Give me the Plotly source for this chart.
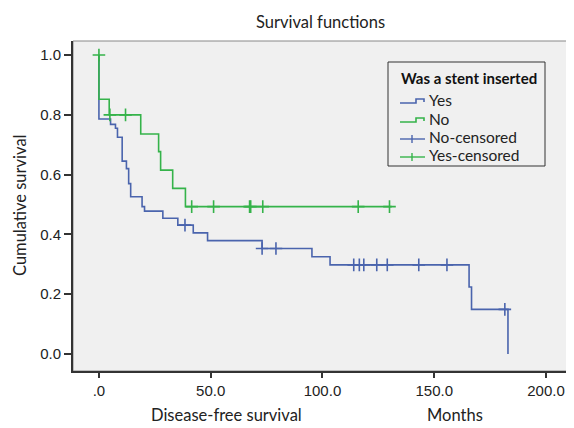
import plotly.graph_objects as go

# ---- data ----
# Group "Yes" (blue): step times and survival after each step
yes_times = [0, 0, 5.2, 7.4, 8.3, 10.4, 12.3, 13.3, 14.2, 19.3, 20.4, 28.6, 35.3, 42.2, 48.6, 73.0, 95.3, 103.4, 165.6, 166.7, 183.0]
yes_surv = [1.0, 0.786, 0.768, 0.755, 0.725, 0.645, 0.62, 0.57, 0.526, 0.493, 0.478, 0.454, 0.431, 0.405, 0.379, 0.353, 0.325, 0.298, 0.224, 0.149, 0.0]
yes_cens_t = [38.5, 73.0, 79.2, 114.0, 116.5, 118.5, 124.3, 129.0, 143.1, 155.7, 181.6]

# Group "No" (green)
no_times = [0, 0, 4.6, 18.7, 26.7, 27.6, 33.0, 38.7, 131.0]
no_surv = [1.0, 0.852, 0.80, 0.736, 0.677, 0.615, 0.554, 0.493, 0.493]
no_cens_t = [0.0, 4.9, 11.9, 41.5, 51.3, 67.4, 67.9, 73.3, 116.0, 130.0]

x_tick_vals = [0, 50, 100, 150, 200]
x_tick_text = [".0", "50.0", "100.0", "150.0", "200.0"]
y_tick_vals = [0.0, 0.2, 0.4, 0.6, 0.8, 1.0]

legend_title = "Was a stent inserted"
legend_labels = ["Yes", "No", "No-censored", "Yes-censored"]


def surv_at(times, surv, t):
    s = surv[0]
    for ti, si in zip(times, surv):
        if ti <= t:
            s = si
    return s


yes_cens_s = [surv_at(yes_times, yes_surv, t) for t in yes_cens_t]
no_cens_s = [1.0 if t == 0 else surv_at(no_times[1:], no_surv[1:], t) for t in no_cens_t]

BLUE = "#4a64ad"
GREEN = "#35b34a"
TXT = "#222222"
FONT = "Lato"
TICKFONT = "Liberation Sans"

# page offset (body margin) compensation: plot area in window pixels
OFF = 8
W, H = 574, 428
PX0, PX1, PY0, PY1 = 73, 571, 41, 371  # plot area in window px
ML, MT = PX0 - OFF, PY0 - OFF
MR = (W + OFF) - PX1
MB = (H + OFF) - PY1
PW, PH = PX1 - PX0, PY1 - PY0


def px(x):
    return (x - PX0) / PW


def py(y):
    return (PY1 - y) / PH


fig = go.Figure()
fig.add_trace(go.Scatter(x=yes_times, y=yes_surv, mode="lines", line=dict(shape="hv", color=BLUE, width=1.6),
                         name=legend_labels[0], showlegend=False))
fig.add_trace(go.Scatter(x=no_times, y=no_surv, mode="lines", line=dict(shape="hv", color=GREEN, width=1.6),
                         name=legend_labels[1], showlegend=False))
fig.add_trace(go.Scatter(x=yes_cens_t, y=yes_cens_s, mode="markers",
                         marker=dict(symbol="cross-thin", size=9, line=dict(color=BLUE, width=1.6)),
                         name=legend_labels[2], showlegend=False))
fig.add_trace(go.Scatter(x=no_cens_t, y=no_cens_s, mode="markers",
                         marker=dict(symbol="cross-thin", size=9, line=dict(color=GREEN, width=1.6)),
                         name=legend_labels[3], showlegend=False))

annotations = [
    dict(text="Survival functions", x=px(320), y=py(22), xanchor="center",
         font=dict(size=16.5, color=TXT, family=FONT)),
    dict(text="Disease-free survival", x=px(226), y=py(415), xanchor="center",
         font=dict(size=16.5, color=TXT, family=FONT)),
    dict(text="Months", x=px(455), y=py(415), xanchor="center",
         font=dict(size=16.5, color=TXT, family=FONT)),
    dict(text="Cumulative survival", x=px(20), y=py(206), textangle=-90, xanchor="center",
         font=dict(size=16.5, color=TXT, family=FONT)),
    # legend title
    dict(text="<b>" + legend_title + "</b>", x=px(399), y=py(78), xanchor="left",
         font=dict(size=15, color="#111111", family=FONT)),
]
row_y = [100, 119, 137, 155]
for lab, yy in zip(legend_labels, row_y):
    annotations.append(dict(text=lab, x=px(427), y=py(yy), xanchor="left",
                            font=dict(size=15.5, color=TXT, family=FONT)))
for a in annotations:
    a.update(xref="paper", yref="paper", showarrow=False, yanchor="middle")

shapes = [
    # thin frame around plot area (top/right)
    dict(type="rect", xref="paper", yref="paper", x0=0, y0=0, x1=1, y1=1,
         line=dict(color="#888888", width=1), layer="below"),
    # legend box
    dict(type="rect", xref="paper", yref="paper", x0=px(388), y0=py(166), x1=px(545), y1=py(62),
         line=dict(color="#333333", width=1), fillcolor="#f0f0f0", layer="above"),
]


def step_symbol(y, color):
    return dict(type="path", xref="paper", yref="paper",
                path=f"M {px(400)},{py(y + 3)} L {px(416)},{py(y + 3)} L {px(416)},{py(y - 1)} "
                     f"L {px(424)},{py(y - 1)} L {px(424)},{py(y + 2)}",
                line=dict(color=color, width=1.6), layer="above")


def cens_symbol(y, color):
    return [dict(type="line", xref="paper", yref="paper", x0=px(400), x1=px(425), y0=py(y + 2), y1=py(y + 2),
                 line=dict(color=color, width=1.4), layer="above"),
            dict(type="line", xref="paper", yref="paper", x0=px(412), x1=px(412), y0=py(y - 2), y1=py(y + 6),
                 line=dict(color=color, width=1.4), layer="above")]


shapes.append(step_symbol(row_y[0], BLUE))
shapes.append(step_symbol(row_y[1], GREEN))
shapes += cens_symbol(row_y[2], BLUE)
shapes += cens_symbol(row_y[3], GREEN)

fig.update_layout(
    width=W, height=H,
    margin=dict(l=ML, r=MR, t=MT, b=MB),
    paper_bgcolor="white",
    plot_bgcolor="#f0f0f0",
    font=dict(family=FONT, size=14, color=TXT),
    showlegend=False,
    annotations=annotations,
    shapes=shapes,
)

fig.update_xaxes(
    range=[-11.6, 211.2], tickvals=x_tick_vals, ticktext=x_tick_text,
    showgrid=False, zeroline=False, ticks="outside", ticklen=5, tickwidth=2, tickcolor="#333333",
    showline=True, linecolor="#333333", linewidth=2, mirror=False,
    tickfont=dict(family=TICKFONT, size=15, color=TXT),
)
fig.update_yaxes(
    range=[-0.057, 1.047], tickvals=y_tick_vals, tickformat=".1f",
    showgrid=False, zeroline=False, ticks="outside", ticklen=7, tickwidth=1.5, tickcolor="#333333",
    showline=True, linecolor="#333333", linewidth=2, mirror=False,
    tickfont=dict(family=TICKFONT, size=15, color=TXT),
)

fig.write_html("out.html")
